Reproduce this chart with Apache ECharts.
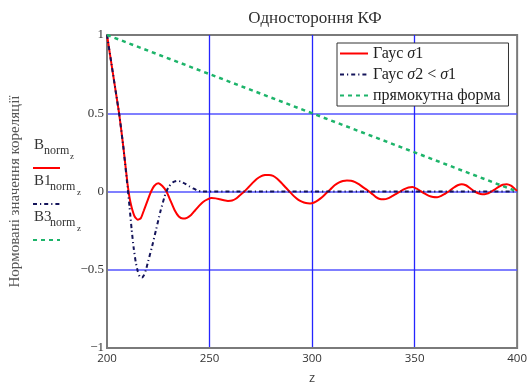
<!DOCTYPE html>
<html>
<head>
<meta charset="utf-8">
<script src="https://cdn.jsdelivr.net/npm/echarts@6/dist/echarts.min.js"></script>
<style>html,body{margin:0;padding:0;background:#fff}#c{width:530px;height:390px}</style>
</head>
<body>
<div id="c"></div>
<script>
const titleText = 'Одностороння КФ';
const yAxisTitle = 'Нормовані значення кореляції';
const xAxisTitle = 'z';
const seriesNames = ['Гаус σ1', 'Гаус σ2 < σ1', 'прямокутна форма'];
const xTicks = [200, 250, 300, 350, 400];
const yTicks = [-1, -0.5, 0, 0.5, 1];

const zRed = [200,202,204,206,208,210,211,212,213.5,215,216.5,218,220,221.5,223,225,227,229,231,233,235,237,239,241,243,245,247,249,251,253,255,257,259,261,263,265,267,269,271,273,275,277,279,281,283,285,287,289,291,293,295,297,299,301,303,305,307,309,311,313,315,317,319,321,323,325,327,329,331,333,335,337,339,341,343,345,347,349,351,353,355,357,359,361,363,365,367,369,371,373,375,377,379,381,383,385,387,389,391,393,395,397,399,400];
const vRed = [1.0,0.83,0.66,0.49,0.28,0.05,-0.04,-0.1,-0.16,-0.18,-0.17,-0.12,-0.05,0.0,0.035,0.053,0.035,0.0,-0.06,-0.12,-0.16,-0.173,-0.168,-0.15,-0.12,-0.09,-0.065,-0.05,-0.042,-0.044,-0.05,-0.056,-0.06,-0.058,-0.045,-0.022,0.0,0.027,0.055,0.08,0.097,0.105,0.106,0.1,0.082,0.056,0.027,0.0,-0.028,-0.05,-0.065,-0.074,-0.076,-0.07,-0.055,-0.035,-0.01,0.015,0.04,0.057,0.067,0.071,0.069,0.06,0.045,0.026,0.008,-0.012,-0.034,-0.048,-0.05,-0.044,-0.03,-0.015,0.0,0.015,0.026,0.029,0.018,0.002,-0.014,-0.028,-0.035,-0.036,-0.028,-0.013,0.003,0.024,0.04,0.047,0.04,0.022,0.002,-0.011,-0.018,-0.015,-0.004,0.012,0.03,0.043,0.047,0.037,0.015,0.005];

const zNavy = [200,202,204,206,208,210,211,212,213,214,215,216,217,218,219,220,222,224,226,228,229,230,232,234,236,238,240,242,244,246,400];
const vNavy = [1,0.83,0.66,0.49,0.28,0.03,-0.1,-0.24,-0.36,-0.45,-0.51,-0.545,-0.55,-0.535,-0.5,-0.45,-0.35,-0.24,-0.13,-0.035,0.0,0.028,0.058,0.068,0.064,0.05,0.035,0.02,0.006,0.0,0.0];

const zGreen = [200, 400];
const vGreen = [1, 0];

const SERIF = "'Liberation Serif','Times New Roman',serif";
const SANS = "'Open Sans','Segoe UI',sans-serif";
const RED = '#ff0000', NAVY = '#14145a', GREEN = '#1db46a';
const NAVY_DASH = [4, 3, 1.2, 3];
const GREEN_DASH = [4, 4];

const pairs = (xs, ys) => xs.map((x, i) => [x, ys[i]]);

const chart = echarts.init(document.getElementById('c'), null, {renderer: 'canvas'});

function legendItem(y, parts, lineStyle) {
  return [
    {type: 'text', left: parts[0].x, top: y - 9, style: {text: parts[0].t, font: '15px ' + SERIF, fill: '#333'}},
    {type: 'text', left: parts[1].x, top: y - 2, style: {text: 'norm', font: '12px ' + SERIF, fill: '#333'}},
    {type: 'text', left: parts[2].x, top: y + 5, style: {text: 'z', font: '9px ' + SERIF, fill: '#333'}},
    {type: 'line', shape: {x1: 33, y1: y + 21, x2: 60, y2: y + 21}, style: lineStyle}
  ];
}

const option = {
  animation: false,
  backgroundColor: '#fff',
  title: {
    text: titleText, left: 310, top: 5, textAlign: 'center',
    textStyle: {fontFamily: SERIF, fontSize: 17, fontWeight: 'normal', color: '#303030'}
  },
  grid: {left: 104, right: 12.5, top: 35, bottom: 40, show: true, borderColor: '#7a7a7a', borderWidth: 2, backgroundColor: 'transparent'},
  legend: {
    orient: 'vertical', left: 337, top: 43,
    width: 172,
    padding: [2, 8, 2, 2],
    itemGap: 4, itemWidth: 28, itemHeight: 14,
    borderColor: '#333', borderWidth: 1, backgroundColor: '#fff',
    itemStyle: {opacity: 0, borderWidth: 0},
    data: seriesNames,
    formatter: n => n.replace(/σ/g, '{s|σ}'),
    textStyle: {fontFamily: SERIF, fontSize: 16, color: '#222', lineHeight: 17,
      rich: {s: {fontFamily: SERIF, fontSize: 16, fontStyle: 'italic', color: '#222', lineHeight: 17}}}
  },
  xAxis: {
    type: 'value', min: xTicks[0], max: xTicks[xTicks.length - 1], interval: 50,
    name: xAxisTitle, nameLocation: 'middle', nameGap: 24,
    nameTextStyle: {fontFamily: SANS, fontSize: 13, color: '#404040'},
    axisLine: {show: true, onZero: false, lineStyle: {color: '#7a7a7a', width: 2}},
    axisTick: {show: false},
    axisLabel: {margin: 5, fontFamily: SANS, fontSize: 11.5, color: '#333'},
    splitLine: {show: true, showMinLine: false, showMaxLine: false, lineStyle: {color: '#2525ff', width: 1.3}}
  },
  yAxis: {
    type: 'value', min: yTicks[0], max: yTicks[yTicks.length - 1], interval: 0.5,
    name: yAxisTitle, nameLocation: 'middle', nameGap: 84, nameRotate: 90,
    nameTextStyle: {fontFamily: SERIF, fontSize: 15, color: '#555'},
    axisLine: {show: true, lineStyle: {color: '#7a7a7a', width: 2}},
    axisTick: {show: false},
    axisLabel: {margin: 3, fontFamily: SERIF, fontSize: 13, color: '#333',
      formatter: v => v < 0 ? '\u2212' + Math.abs(v) : String(v)},
    splitLine: {show: true, showMinLine: false, showMaxLine: false, lineStyle: {color: '#5555ff', width: 1.5}}
  },
  series: [
    {name: seriesNames[0], type: 'line', data: pairs(zRed, vRed), symbol: 'none', smooth: 0.2,
      lineStyle: {color: RED, width: 2}, itemStyle: {color: RED}, z: 3},
    {name: seriesNames[1], type: 'line', data: pairs(zNavy, vNavy), symbol: 'none', smooth: 0.2,
      lineStyle: {color: NAVY, width: 2, type: NAVY_DASH}, itemStyle: {color: NAVY}, z: 4},
    {name: seriesNames[2], type: 'line', data: pairs(zGreen, vGreen), symbol: 'none',
      lineStyle: {color: GREEN, width: 2.5, type: GREEN_DASH}, itemStyle: {color: GREEN}, z: 5}
  ],
  graphic: [].concat(
    legendItem(147, [{t: 'B', x: 34}, {x: 44}, {x: 70}], {stroke: RED, lineWidth: 2}),
    legendItem(183, [{t: 'B1', x: 34}, {x: 50}, {x: 77}], {stroke: NAVY, lineWidth: 2, lineDash: NAVY_DASH}),
    legendItem(219, [{t: 'B3', x: 34}, {x: 50}, {x: 77}], {stroke: GREEN, lineWidth: 2, lineDash: GREEN_DASH})
  )
};
chart.setOption(option);
</script>
</body>
</html>
